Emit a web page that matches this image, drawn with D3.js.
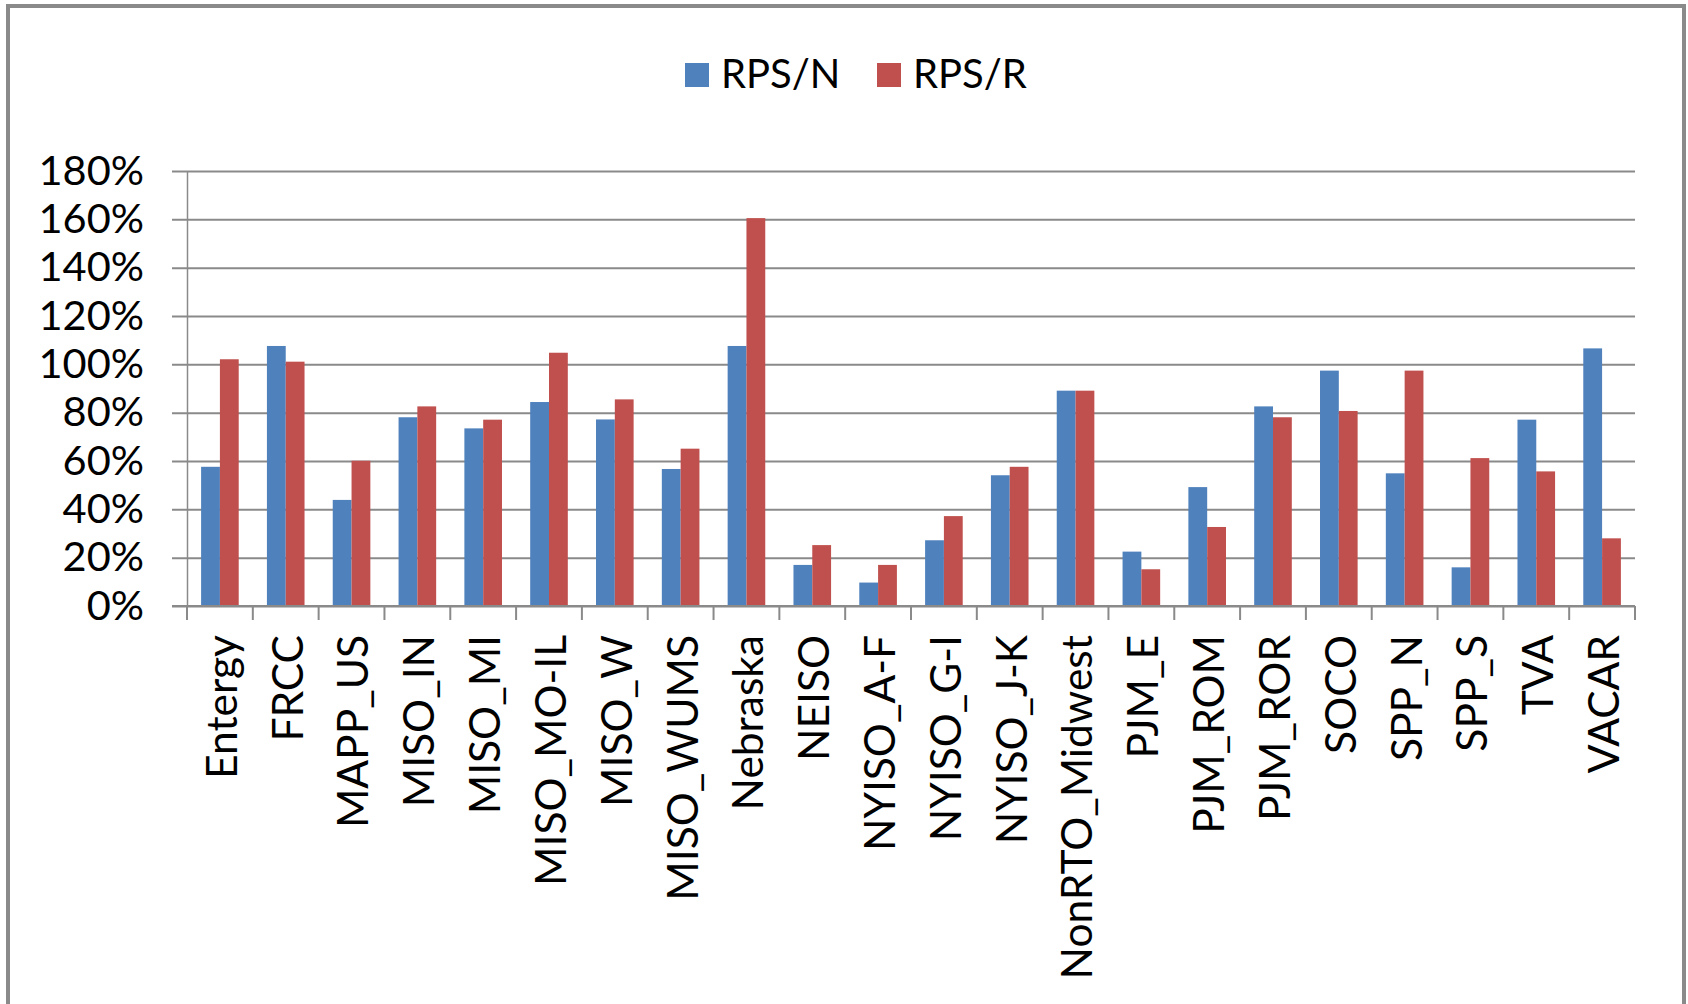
<!DOCTYPE html>
<html>
<head>
<meta charset="utf-8">
<script src="https://cdn.jsdelivr.net/npm/d3@7"></script>
<style>
  html, body { margin: 0; padding: 0; background: #fff; }
  svg { display: block; }
  text { font-family: Lato, "Open Sans", sans-serif; fill: #000; }
</style>
</head>
<body>
<svg id="chart" width="1688" height="1004"></svg>
<script>
const categories = ["Entergy","FRCC","MAPP_US","MISO_IN","MISO_MI","MISO_MO-IL","MISO_W","MISO_WUMS","Nebraska","NEISO","NYISO_A-F","NYISO_G-I","NYISO_J-K","NonRTO_Midwest","PJM_E","PJM_ROM","PJM_ROR","SOCO","SPP_N","SPP_S","TVA","VACAR"];
const seriesNames = ["RPS/N","RPS/R"];
const rpsN = [0.576,1.076,0.439,0.781,0.735,0.844,0.772,0.567,1.076,0.170,0.097,0.272,0.541,0.891,0.225,0.492,0.826,0.974,0.549,0.160,0.771,1.066];
const rpsR = [1.021,1.011,0.601,0.826,0.771,1.048,0.855,0.651,1.605,0.252,0.170,0.372,0.576,0.891,0.152,0.327,0.781,0.807,0.974,0.612,0.557,0.280];
const yTicks = [0,0.2,0.4,0.6,0.8,1.0,1.2,1.4,1.6,1.8];
const colors = ["#4F81BD","#C0504D"];

const svg = d3.select("#chart");

// outer frame
svg.append("rect").attr("x", 8).attr("y", 6).attr("width", 1676).attr("height", 1010)
  .attr("fill", "#fff").attr("stroke", "#8a8a8a").attr("stroke-width", 4);

const plot = {left: 187, right: 1635, top: 171, bottom: 606};

const x = d3.scaleBand().domain(categories).range([plot.left, plot.right]).paddingInner(0).paddingOuter(0);
const xs = d3.scaleBand().domain(seriesNames).range([0, x.bandwidth()]).paddingInner(0).paddingOuter(0.75);
const y = d3.scaleLinear().domain([0, 1.8]).range([plot.bottom, plot.top]);
const fmt = d3.format(".0%");

// gridlines + y axis
const yAxis = d3.axisLeft(y).tickValues(yTicks).tickFormat(fmt)
  .tickSize(-(plot.right - plot.left)).tickSizeOuter(0).tickPadding(43);
const gy = svg.append("g").attr("transform", `translate(${plot.left},0)`).call(yAxis);
gy.select(".domain").attr("stroke", "#8a8a8a").attr("stroke-width", 1.5);
gy.selectAll(".tick line").attr("stroke", "#8a8a8a").attr("stroke-width", 2)
  .attr("x1", -15);
gy.selectAll(".tick text").attr("font-size", 41.5).attr("font-family", "Lato").attr("fill", "#000");

// bars
const data = categories.map((c, i) => ({cat: c, vals: [rpsN[i], rpsR[i]]}));
const groups = svg.append("g").selectAll("g").data(data).join("g")
  .attr("transform", d => `translate(${x(d.cat)},0)`);
groups.selectAll("rect").data(d => d.vals.map((v, j) => ({v, s: seriesNames[j], j})))
  .join("rect")
  .attr("x", d => xs(d.s))
  .attr("width", xs.bandwidth())
  .attr("y", d => y(d.v))
  .attr("height", d => y(0) - y(d.v))
  .attr("fill", d => colors[d.j]);

// x axis
const xAxis = d3.axisBottom(x).tickSize(0).tickPadding(0);
const gx = svg.append("g").attr("transform", `translate(0,${plot.bottom})`).call(xAxis);
gx.select(".domain").remove();
svg.append("line").attr("x1", plot.left - 15).attr("x2", plot.right)
  .attr("y1", plot.bottom).attr("y2", plot.bottom)
  .attr("stroke", "#8a8a8a").attr("stroke-width", 2);
// category boundary ticks
const bounds = categories.map(c => x(c)).concat([plot.right]);
svg.append("g").selectAll("line").data(bounds).join("line")
  .attr("x1", d => d).attr("x2", d => d)
  .attr("y1", plot.bottom).attr("y2", plot.bottom + 14)
  .attr("stroke", "#8a8a8a").attr("stroke-width", 2);
gx.selectAll(".tick text")
  .attr("font-size", 42.5).attr("font-family", "Lato").attr("fill", "#000")
  .attr("text-anchor", "end")
  .attr("transform", "translate(2,29) rotate(-90)")
  .attr("dy", "0.35em").attr("y", 0);

// legend
const legend = svg.append("g");
const legendItems = [{name: seriesNames[0], color: colors[0], x: 685}, {name: seriesNames[1], color: colors[1], x: 877}];
legendItems.forEach(d => {
  legend.append("rect").attr("x", d.x).attr("y", 63).attr("width", 24).attr("height", 24).attr("fill", d.color);
  legend.append("text").attr("x", d.x + 36).attr("y", 88).attr("font-size", 40).attr("font-family", "Lato").text(d.name);
});
</script>
</body>
</html>
